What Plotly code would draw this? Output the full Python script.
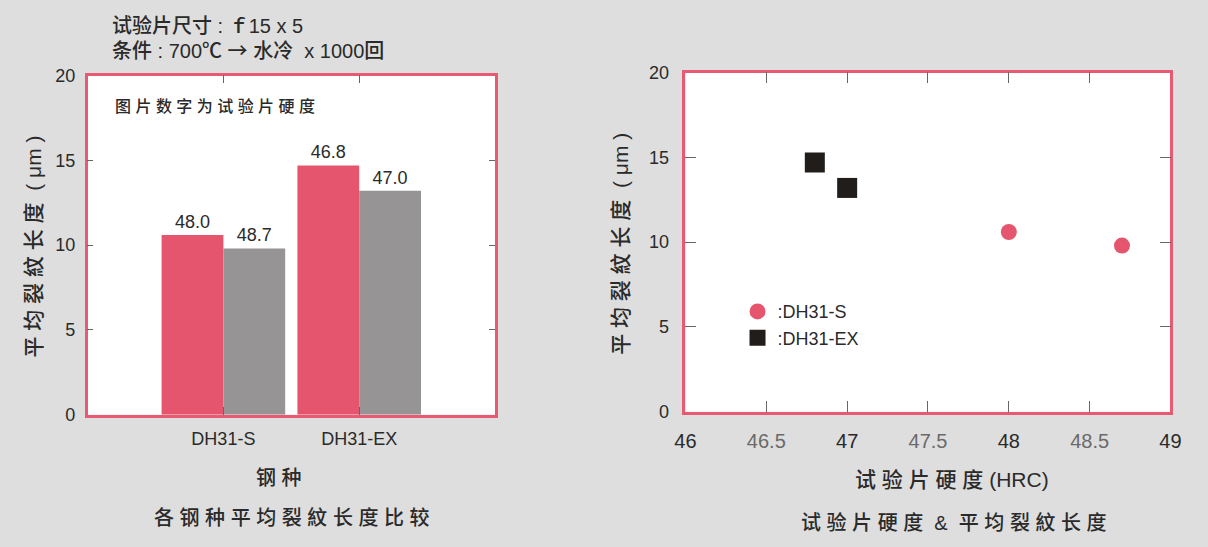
import plotly.graph_objects as go

W, H = 1208, 547

# ---- data ----
categories = ["DH31-S", "DH31-EX"]
crack_red = [10.6, 14.7]      # average crack length (um), first specimen
crack_gray = [9.8, 13.2]      # average crack length (um), second specimen
hardness_red = [48.0, 46.8]   # specimen hardness (HRC), first specimen
hardness_gray = [48.7, 47.0]  # specimen hardness (HRC), second specimen
y_ticks = [0, 5, 10, 15, 20]
x2_ticks = [46, 46.5, 47, 47.5, 48, 48.5, 49]
x2_ticklabels = ["46", "46.5", "47", "47.5", "48", "48.5", "49"]
steel_names = [":DH31-S", ":DH31-EX"]

RED = "#E5566E"
GRAY = "#969495"
BLACK = "#211D1A"
FRAME = "#E85A72"
TXT = "#2A2A2A"
FONT = "Liberation Sans, Arial, Noto Sans CJK SC, sans-serif"


def px(x):
    return x / W


def py(y):
    return 1 - y / H


def spaced(s):
    return " ".join(list(s))


fig = go.Figure()

fig.add_bar(x=categories, y=crack_red, marker=dict(color=RED, line=dict(width=0)),
            text=[f"{v:.1f}" for v in hardness_red], textposition="outside",
            textfont=dict(size=18, color=TXT), cliponaxis=False,
            xaxis="x", yaxis="y", showlegend=False)
fig.add_bar(x=categories, y=crack_gray, marker=dict(color=GRAY, line=dict(width=0)),
            text=[f"{v:.1f}" for v in hardness_gray], textposition="outside",
            textfont=dict(size=18, color=TXT), cliponaxis=False,
            xaxis="x", yaxis="y", showlegend=False)

symbols = ["circle", "square"]
colors = [RED, BLACK]
sizes = [16, 20]
for i in range(len(categories)):
    fig.add_scatter(x=[hardness_red[i], hardness_gray[i]], y=[crack_red[i], crack_gray[i]],
                    mode="markers", name=steel_names[i],
                    marker=dict(symbol=symbols[i], size=sizes[i], color=colors[i]),
                    xaxis="x2", yaxis="y2", cliponaxis=False)

frame = dict(showline=True, linecolor=FRAME, linewidth=2.5, mirror="ticks",
             ticks="inside", tickcolor="#666", tickwidth=1, showgrid=False, zeroline=False)

x2_text = [t if "." not in t else f"<span style='color:#6A6A6A'>{t}</span>"
           for t in x2_ticklabels]

fig.update_layout(
    width=W, height=H, autosize=False,
    margin=dict(l=0, r=0, t=0, b=0),
    paper_bgcolor="#DEDEDE", plot_bgcolor="white",
    font=dict(family=FONT, color=TXT),
    barmode="group", bargap=0.09, bargroupgap=0,
    xaxis=dict(domain=[px(78), px(493)], anchor="y", type="category", range=[-1, 2],
               ticklen=8, tickfont=dict(size=18), ticklabelstandoff=6, **frame),
    yaxis=dict(domain=[py(420), py(68)], anchor="x", range=[0, 20], tickvals=y_ticks,
               ticklen=6, tickfont=dict(size=18), ticklabelstandoff=6, **frame),
    xaxis2=dict(domain=[px(687), px(1181)], anchor="y2", range=[46, 49], tickvals=x2_ticks,
                ticktext=x2_text, ticklen=11, tickfont=dict(size=20),
                ticklabelstandoff=9, **frame),
    yaxis2=dict(domain=[py(417), py(65)], anchor="x2", range=[0, 20], tickvals=y_ticks,
                ticklen=11, tickfont=dict(size=18), ticklabelstandoff=10, **frame),
    legend=dict(x=px(740), y=py(294), xanchor="left", yanchor="top",
                bgcolor="rgba(0,0,0,0)", font=dict(size=18, color=TXT),
                tracegroupgap=0),
)

ann = []


def add_text(text, x, y, size, xanchor="center", angle=0, weight=400):
    ann.append(dict(text=text, x=px(x), y=py(y), xref="paper", yref="paper",
                    xanchor=xanchor, yanchor="middle", showarrow=False,
                    textangle=angle,
                    font=dict(size=size, color=TXT, family=FONT, weight=weight)))


ARROW = "<span style='font-family:Noto Sans CJK SC'>→</span>"
add_text("试验片尺寸 : ｆ15 x 5", 101, 17, 20, xanchor="left", weight=500)
add_text("条件 : 700℃ " + ARROW + " 水冷  x 1000回", 101, 41, 20, xanchor="left", weight=500)
add_text(spaced("图片数字为试验片硬度"), 104, 100, 16, xanchor="left", weight=500)
add_text(spaced("钢种"), 273, 486, 20, weight=500)
add_text(spaced("各钢种平均裂紋长度比较"), 286, 527, 20, weight=500)
add_text(spaced("平均裂紋长度") + "  ( μm )", 22, 246, 21, angle=-90, weight=500)
add_text(spaced("平均裂紋长度") + "  ( μm )", 620, 243, 21, angle=-90, weight=500)
add_text(spaced("试验片硬度") + " (HRC)", 958, 487, 21, weight=500)
add_text(spaced("试验片硬度") + "  &  " + spaced("平均裂紋长度"), 960, 532, 20, weight=500)

fig.update_layout(annotations=ann)

fig.write_html(
    "out.html",
    config={"displayModeBar": False},
    post_script="document.body.style.margin='0';document.body.style.overflow='hidden';"
                "document.documentElement.style.overflow='hidden';",
)
